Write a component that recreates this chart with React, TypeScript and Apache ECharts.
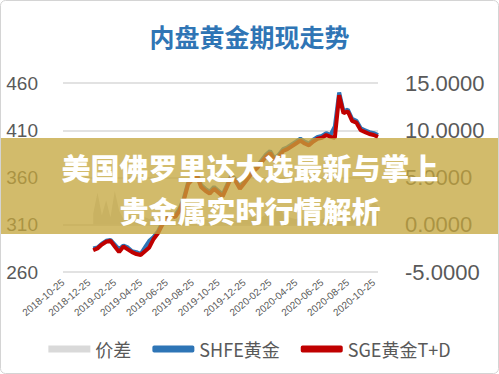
import React, { useEffect, useRef } from "react";
import * as echarts from "echarts";

const categories: string[] = [
  "2018-10-25", "2018-11-05", "2018-11-15", "2018-11-25", "2018-12-05", "2018-12-15",
  "2018-12-25", "2019-01-05", "2019-01-15", "2019-01-25", "2019-02-05", "2019-02-15",
  "2019-02-25", "2019-03-05", "2019-03-15", "2019-03-25", "2019-04-05", "2019-04-15",
  "2019-04-25", "2019-05-05", "2019-05-15", "2019-05-25", "2019-06-05", "2019-06-15",
  "2019-06-25", "2019-07-05", "2019-07-15", "2019-07-25", "2019-08-05", "2019-08-15",
  "2019-08-25", "2019-09-05", "2019-09-15", "2019-09-25", "2019-10-05", "2019-10-15",
  "2019-10-25", "2019-11-05", "2019-11-15", "2019-11-25", "2019-12-05", "2019-12-15",
  "2019-12-25", "2020-01-05", "2020-01-15", "2020-01-25", "2020-02-05", "2020-02-15",
  "2020-02-25", "2020-03-05", "2020-03-15", "2020-03-25", "2020-04-05", "2020-04-15",
  "2020-04-25", "2020-05-05", "2020-05-15", "2020-05-25", "2020-06-05", "2020-06-15",
  "2020-06-25", "2020-07-05", "2020-07-15", "2020-07-25", "2020-08-05", "2020-08-15",
  "2020-08-25", "2020-09-05", "2020-09-15", "2020-09-25", "2020-10-05", "2020-10-15",
  "2020-10-25", "2020-11-05",
];

const shfeGold: (number | null)[] = [
  null, null, null, null, null, null, null,
  285, 286, 290, 293, 294, 289, 284, 288, 286, 282, 281, 279, 286, 293,
  297, 303, 312, 318, 322, 320, 327, 338, 355, 360, 364, 352, 348, 345,
  350, 346, 342, 352, 362, 358, 350, 356, 362, 368, 372, 378, 384, 388,
  380, 384, 390, 392, 395, 398, 401, 398, 396, 400, 403, 404, 407, 405,
  414, 450, 430, 432, 422, 420, 412, 410, 408, 407, 405,
];

const sgeGold: (number | null)[] = [
  null, null, null, null, null, null, null,
  283, 285, 289, 292, 293, 287, 281, 287, 284, 281, 279, 278, 282, 286,
  295, 301, 310, 316, 320, 318, 325, 336, 353, 358, 362, 350, 346, 343,
  348, 344, 340, 350, 360, 356, 348, 354, 360, 366, 370, 376, 382, 386,
  378, 382, 388, 390, 393, 396, 399, 396, 394, 398, 401, 402, 405, 403,
  402, 447, 428, 430, 420, 418, 410, 408, 406, 405, 403,
];

const spread: (number | null)[] = [
  null, null, null, null, null, null, null,
  1.2, 3.4, 1.0, 2.6, 0.8, 3.6, 1.5, 0.6, 1.1, 0.7, 0.5, 1.3, 0.8, 0.6,
  0.9, 0.5, 0.7, 0.4, 0.6, 0.5, 0.8, 0.6, 1.2, 0.7, 0.5, 0.9, 0.6, 0.4,
  0.7, 0.5, 0.6, 0.8, 0.5, 0.4, 0.6, 0.5, 0.7, 1.0, 0.6, 0.8, 1.1, 0.9,
  1.4, 2.0, 1.2, 0.9, 0.7, 0.6, 0.8, 0.5, 0.6, 0.7, 0.5, 0.6, 0.8, 0.7,
  1.0, 1.5, 1.2, 0.9, 0.8, 1.0, 0.9, 1.3, 1.8, 2.4, 2.0,
];

const leftTicks = { min: 260, max: 460, interval: 50 };
const rightTicks = { min: -5, max: 15, interval: 5 };

const titleText = "内盘黄金期现走势";
const bannerLines = ["美国佛罗里达大选最新与掌上", "贵金属实时行情解析"];

const axisFont = "'Liberation Sans', 'Noto Sans', sans-serif";
const cjkFont = "'Noto Sans CJK SC', 'Noto Sans', sans-serif";

export default function App() {
  const ref = useRef<HTMLDivElement>(null);

  useEffect(() => {
    if (!ref.current) return;
    const chart = echarts.init(ref.current, undefined, { renderer: "svg" });
    chart.setOption({
      animation: false,
      backgroundColor: "#ffffff",
      title: {
        text: titleText,
        left: "center",
        top: 18,
        textStyle: {
          fontSize: 25,
          fontWeight: "bold",
          color: "#2f75b5",
          fontFamily: cjkFont,
        },
      },
      grid: { left: 63, right: 121, top: 83, bottom: 102, containLabel: false },
      legend: {
        bottom: 11,
        left: "center",
        itemWidth: 42,
        itemHeight: 7,
        itemGap: 21,
        textStyle: { fontSize: 18, color: "#595959", fontFamily: cjkFont },
        data: [
          { name: "价差", icon: "rect" },
          { name: "SHFE黄金", icon: "roundRect", itemStyle: { color: "#2e75b6" } },
          { name: "SGE黄金T+D", icon: "roundRect", itemStyle: { color: "#c00000" } },
        ],
      },
      xAxis: {
        type: "category",
        data: categories,
        boundaryGap: false,
        axisLine: { show: false },
        axisTick: { show: false },
        axisLabel: {
          interval: 5,
          rotate: 40,
          margin: 9,
          fontSize: 10,
          color: "#595959",
          fontFamily: axisFont,
        },
      },
      yAxis: [
        {
          type: "value",
          min: leftTicks.min,
          max: leftTicks.max,
          interval: leftTicks.interval,
          axisLine: { show: false },
          axisTick: { show: false },
          splitLine: { lineStyle: { color: "#d9d9d9", width: 1.5 } },
          axisLabel: { margin: 25, fontSize: 19, color: "#595959", fontFamily: axisFont },
        },
        {
          type: "value",
          min: rightTicks.min,
          max: rightTicks.max,
          interval: rightTicks.interval,
          axisLine: { show: false },
          axisTick: { show: false },
          splitLine: { show: false },
          axisLabel: {
            margin: 27,
            fontSize: 22,
            color: "#595959",
            fontFamily: axisFont,
            formatter: (v: number) => v.toFixed(4),
          },
        },
      ],
      series: [
        {
          name: "价差",
          type: "line",
          yAxisIndex: 1,
          data: spread,
          symbol: "none",
          lineStyle: { width: 0, color: "#d9d9d9" },
          itemStyle: { color: "#d9d9d9" },
          areaStyle: { color: "#d9d9d9", opacity: 1 },
          z: 1,
        },
        {
          name: "SHFE黄金",
          type: "line",
          yAxisIndex: 0,
          data: shfeGold,
          symbol: "none",
          lineStyle: { width: 4, color: "#2e75b6" },
          itemStyle: { color: "#2e75b6" },
          z: 2,
        },
        {
          name: "SGE黄金T+D",
          type: "line",
          yAxisIndex: 0,
          data: sgeGold,
          symbol: "none",
          lineStyle: { width: 4, color: "#c00000" },
          itemStyle: { color: "#c00000" },
          z: 3,
        },
      ],
      graphic: [
        {
          type: "rect",
          z: 100,
          shape: { x: 0, y: 138, width: 499, height: 96 },
          style: { fill: "rgba(196,165,60,0.76)" },
        },
        {
          type: "text",
          z: 101,
          x: 250,
          y: 167,
          style: {
            text: bannerLines[0],
            fill: "#ffffff",
            font: `900 29px ${cjkFont}`,
            textAlign: "center",
            textVerticalAlign: "middle",
          },
        },
        {
          type: "text",
          z: 101,
          x: 250,
          y: 210,
          style: {
            text: bannerLines[1],
            fill: "#ffffff",
            font: `900 29px ${cjkFont}`,
            textAlign: "center",
            textVerticalAlign: "middle",
          },
        },
        {
          type: "rect",
          z: 102,
          shape: { x: 0.5, y: 0.5, width: 498, height: 373, r: 5 },
          style: { fill: "none", stroke: "#d4d4d4", lineWidth: 1 },
        },
      ],
    });
    return () => chart.dispose();
  }, []);

  return (
    <div
      ref={ref}
      style={{ position: "fixed", left: 0, top: 0, width: 499, height: 374 }}
    />
  );
}
